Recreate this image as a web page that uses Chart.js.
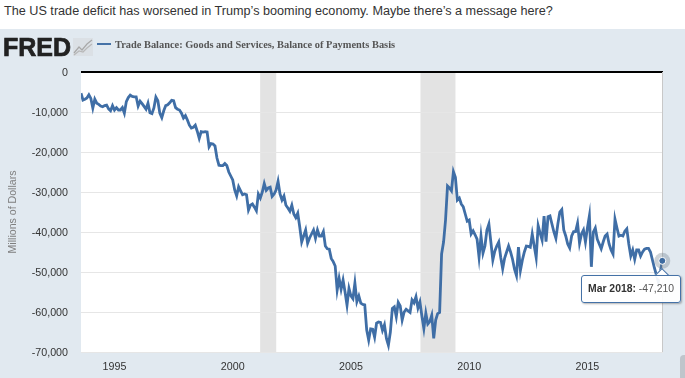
<!DOCTYPE html>
<html>
<head>
<meta charset="utf-8">
<script src="https://cdn.jsdelivr.net/npm/chart.js@4"></script>
<style>
  html, body { margin: 0; padding: 0; background: #fff; overflow: hidden; }
  body { width: 685px; height: 378px; position: relative; font-family: "Liberation Sans", Arial, sans-serif; }
  #headline { position: absolute; left: 4px; top: 3px; font-size: 12.65px; line-height: 17px; color: #333; white-space: nowrap; }
  #panel { position: absolute; left: 0; top: 29px; width: 685px; height: 349px; background: #e1e9f0; }
  canvas { position: absolute; left: 0; top: 0; }
  #logo { position: absolute; left: 3px; top: 34px; font-size: 25px; line-height: 26px; font-weight: bold; color: #222; -webkit-text-stroke: 0.7px #222; }
  #logoIcon { position: absolute; left: 73px; top: 38px; }
  #legend { position: absolute; left: 97px; top: 38px; height: 14px; line-height: 14px; font-family: "Liberation Serif", serif; font-weight: bold; font-size: 10.4px; color: #555; white-space: nowrap; }
  #legend i { display: inline-block; width: 14px; height: 2px; background: #4572a7; vertical-align: 3px; margin-right: 4px; }
  #tip { position: absolute; display: none; box-sizing: border-box; background: rgba(255,255,255,0.92); border: 1px solid #4572a7; border-radius: 3px; box-shadow: 1px 1px 2px rgba(0,0,0,0.3); font-size: 10.4px; line-height: 25px; color: #555; white-space: nowrap; padding-left: 6px; }
  #tip b { color: #333; }
  #tipCaret { position: absolute; display: none; width: 9px; height: 9px; background: #fff; border-left: 1px solid #4572a7; border-top: 1px solid #4572a7; transform: rotate(45deg); }
  #corner { position: absolute; left: 680px; top: 355px; width: 8px; height: 23px; background: #bfc5cb; border-radius: 4px 0 0 0; }
</style>
</head>
<body>
<div id="headline"></div>
<div id="panel"><canvas id="chart" width="685" height="349"></canvas></div>
<div id="logo">FRED</div>
<svg id="logoIcon" width="20" height="18">
  <rect x="0" y="0" width="20" height="18" fill="#dbe0e5"/>
  <polyline points="1,15 6,9 9,12 14,6 19,2" fill="none" stroke="#a8a8a8" stroke-width="1.2"/>
  <polyline points="1,17 6,13 10,14 14,10 19,6" fill="none" stroke="#b8b8b8" stroke-width="1.2"/>
</svg>
<div id="legend"><i></i><span id="legendText"></span></div>
<div id="tipCaret"></div>
<div id="tip"></div>
<div id="corner"></div>
<script>
// headline and series name:
const headline = 'The US trade deficit has worsened in Trump\u2019s booming economy. Maybe there\u2019s a message here?';
const seriesName = 'Trade Balance: Goods and Services, Balance of Payments Basis';
const yTitle = 'Millions of Dollars';

// first month of the series (Aug 1993), monthly after that:
const startYear = 1993;
const startMonth = 7;
const monthNames = ['Jan', 'Feb', 'Mar', 'Apr', 'May', 'Jun', 'Jul', 'Aug', 'Sep', 'Oct', 'Nov', 'Dec'];

// trade balance, millions of dollars:
const balance = [
  -5300, -7000, -6800, -6500, -5700, -6600, -9000, -6800, -7800, -8100, -8500, -8700,
  -8400, -8300, -9200, -9700, -8400, -9500, -8900, -9500, -9500, -8900, -10300, -7400,
  -6400, -5800, -6100, -6200, -6200, -8500, -7300, -7900, -8600, -9300, -7800, -10200,
  -10400, -9000, -6300, -7200, -10300, -11400, -9700, -8400, -8200, -7700, -7100, -7200,
  -8900, -9300, -9500, -10300, -11500, -10900, -12000, -13300, -14000, -13800, -13300, -14800,
  -16600, -14900, -15000, -14900, -15000, -18700, -17900, -18000, -18500, -21500, -23300, -23400,
  -23400, -22900, -23400, -25000, -26000, -27000, -29500, -31000, -28700, -29700, -30700, -30500,
  -30700, -34500, -33300, -33000, -33800, -34700, -30500, -31500, -30000, -27900, -29600, -29000,
  -28800, -31100, -30500, -29500, -27300, -30500, -32000, -31000, -33300, -34000, -34800, -33300,
  -35500, -36400, -35300, -38700, -42500, -41000, -39500, -42800, -41500, -40500, -39500, -41600,
  -39500, -41000, -41000, -39900, -43500, -44200, -44300, -46600, -47400, -48500, -54500, -51600,
  -54300, -52000, -55000, -58300, -54100, -56000, -56700, -52800, -57400, -56000, -57800, -58100,
  -58200, -64500, -67000, -64200, -64300, -66300, -62800, -62500, -62600, -64600, -63200, -66600,
  -68300, -65000, -59100, -58700, -61200, -57600, -58500, -62000, -60000, -59300, -59700, -60100,
  -57000, -57700, -56200, -59000, -57500, -61000, -64100, -60300, -63000, -62400, -60800, -66600,
  -62000, -60400, -60100, -45500, -42500, -37000, -28500, -29000, -29700, -24900, -26300, -32000,
  -31500, -33000, -33700, -35500, -37300, -37000, -40500, -39700, -40700, -41800, -46300, -41000,
  -45300, -43500, -39500, -38000, -42500, -47000, -44800, -43500, -42500, -46300, -49200, -46500,
  -45000, -43500, -45000, -46800, -49300, -50900, -43800, -49600, -47000, -45000, -43500, -43600,
  -43800, -40500, -43500, -46400, -38400, -40300, -42000, -36000, -42400, -36200, -36000, -38000,
  -40000, -41600, -38000, -35000, -34400, -39500, -41000, -43000, -44000, -41000, -39900, -39900,
  -37800, -42800, -40500, -39500, -42500, -39000, -36000, -48700, -40000, -39000, -41800, -43000,
  -44200, -42500, -41000, -40500, -43000, -44500, -45500, -36800, -39000, -41000, -40800, -41000,
  -39800, -39200, -43000, -46000, -44500, -46800, -44500, -44500, -46000, -45000, -44300, -44100,
  -44100, -45000, -47000, -49000, -50700, -52500, -50000, -47210
];

// axes:
const yearTicks = [1995, 2000, 2005, 2010, 2015];
const valueTicks = [0, -10000, -20000, -30000, -40000, -50000, -60000, -70000];

// NBER recessions as [start, end] in fractional years:
const recessionStart = [2001.16, 2007.94];
const recessionEnd = [2001.84, 2009.42];

// each point on the linear x scale, in fractional years:
const points = balance.map((v, i) => ({ x: startYear + (startMonth + i) / 12, y: v }));
const highlighted = balance.length - 1;

document.getElementById('headline').textContent = headline;
document.getElementById('legendText').textContent = seriesName;

// white plot background, recession bands, and the marker halo:
const plotDecor = {
  id: 'plotDecor',
  beforeDraw(chart) {
    const { ctx, chartArea: a, scales } = chart;
    ctx.save();
    ctx.fillStyle = '#ffffff';
    ctx.fillRect(a.left, a.top, a.right - a.left, a.bottom - a.top);
    ctx.fillStyle = '#e3e3e3';
    recessionStart.forEach((s, i) => {
      const x0 = scales.x.getPixelForValue(s);
      const x1 = scales.x.getPixelForValue(recessionEnd[i]);
      ctx.fillRect(x0, a.top, x1 - x0, a.bottom - a.top);
    });
    ctx.restore();
  },
  afterDatasetsDraw(chart) {
    const { ctx, chartArea: a } = chart;
    const p = chart.getDatasetMeta(0).data[highlighted];
    ctx.save();
    // crosshair
    ctx.strokeStyle = '#c8c8c8';
    ctx.lineWidth = 1;
    ctx.beginPath();
    ctx.moveTo(Math.round(p.x) + 0.5, a.top);
    ctx.lineTo(Math.round(p.x) + 0.5, a.bottom);
    ctx.stroke();
    // halo
    ctx.fillStyle = 'rgba(110,125,140,0.35)';
    ctx.beginPath();
    ctx.arc(p.x, p.y, 8, 0, Math.PI * 2);
    ctx.fill();
    // marker
    ctx.fillStyle = '#3d6a9f';
    ctx.strokeStyle = '#ffffff';
    ctx.beginPath();
    ctx.arc(p.x, p.y, 3.5, 0, Math.PI * 2);
    ctx.fill();
    ctx.stroke();
    ctx.restore();
  }
};

// the tooltip is html so the date can be bold on the same line as the value
function drawTip(context) {
  const tip = document.getElementById('tip');
  const caret = document.getElementById('tipCaret');
  const t = context.tooltip;
  if (t.opacity === 0 || !t.dataPoints) {
    tip.style.display = 'none';
    caret.style.display = 'none';
    return;
  }
  const d = t.dataPoints[0];
  const month = startMonth + d.dataIndex;
  const label = monthNames[month % 12] + ' ' + (startYear + Math.floor(month / 12));
  tip.innerHTML = '<b>' + label + ':</b> ' + balance[d.dataIndex].toLocaleString('en-US');
  const px = d.element.x;
  const py = d.element.y + 29;
  tip.style.display = 'block';
  tip.style.left = '581px';
  tip.style.top = (py + 14) + 'px';
  tip.style.width = '100px';
  tip.style.height = '28px';
  caret.style.display = 'block';
  caret.style.left = (px - 5) + 'px';
  caret.style.top = (py + 9) + 'px';
}

const chart = new Chart(document.getElementById('chart'), {
  type: 'line',
  data: {
    datasets: [{
      label: seriesName,
      data: points,
      borderColor: '#3f6ea6',
      borderWidth: 2.8,
      pointRadius: 0,
      pointHoverRadius: 0,
      tension: 0
    }]
  },
  plugins: [plotDecor],
  options: {
    responsive: false,
    animation: false,
    events: [],
    layout: { padding: { top: 43, right: 22, left: 0, bottom: 0 } },
    plugins: {
      legend: { display: false },
      tooltip: { enabled: false, external: drawTip, mode: 'nearest', intersect: false }
    },
    scales: {
      x: {
        type: 'linear',
        min: startYear + startMonth / 12,
        max: startYear + (startMonth + balance.length - 1) / 12 + 0.03,
        border: { display: false },
        grid: { display: false },
        afterBuildTicks(scale) { scale.ticks = yearTicks.map(v => ({ value: v })); },
        afterFit(scale) { scale.height = 26; },
        ticks: {
          autoSkip: false,
          maxRotation: 0,
          padding: 1,
          color: '#333',
          font: { family: '"Liberation Sans", Arial, sans-serif', size: 10.7 },
          callback: v => String(v)
        }
      },
      y: {
        min: -70000,
        max: 0,
        border: { display: false },
        afterBuildTicks(scale) { scale.ticks = valueTicks.map(v => ({ value: v })); },
        afterFit(scale) { scale.width = 81; },
        grid: {
          drawTicks: false,
          color: c => c.tick.value === 0 ? '#000000' : '#e6e6e6',
          lineWidth: c => c.tick.value === 0 ? 2 : 1
        },
        title: {
          display: true,
          text: yTitle,
          color: '#7f7f7f',
          padding: { top: 7, bottom: 8 },
          font: { family: '"Liberation Sans", Arial, sans-serif', size: 10.6 }
        },
        ticks: {
          padding: 13,
          labelOffset: 1.5,
          color: '#333',
          font: { family: '"Liberation Sans", Arial, sans-serif', size: 10.7 },
          callback: v => v.toLocaleString('en-US')
        }
      }
    }
  }
});

// show the last month the way the reference does:
chart.tooltip.setActiveElements([{ datasetIndex: 0, index: highlighted }], { x: 0, y: 0 });
chart.update();
</script>
</body>
</html>
